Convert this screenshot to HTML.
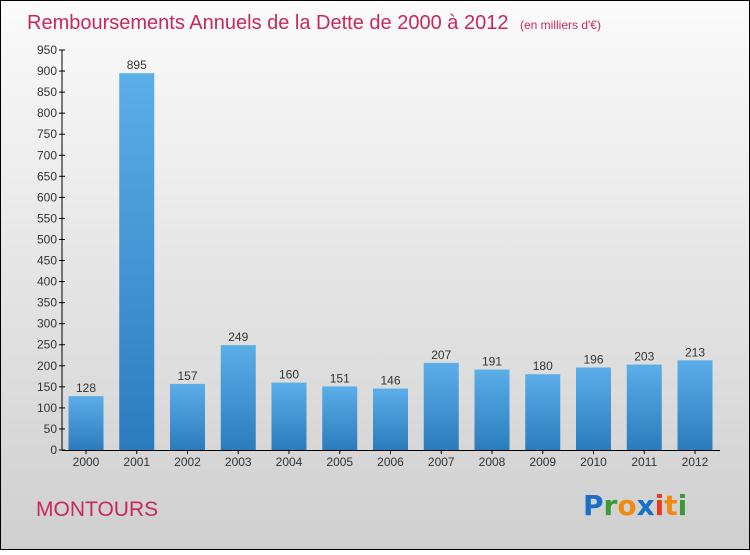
<!DOCTYPE html>
<html><head><meta charset="utf-8"><style>
body{margin:0;width:750px;height:550px;overflow:hidden;font-family:"Liberation Sans",sans-serif}
</style></head><body>
<svg id="c" width="750" height="550" xmlns="http://www.w3.org/2000/svg">
<defs>
<linearGradient id="bg" x1="0" y1="0" x2="0" y2="1"><stop offset="0" stop-color="#fbfbfb"/><stop offset="1" stop-color="#cfcfcf"/></linearGradient>
<linearGradient id="bar" x1="0" y1="0" x2="0" y2="1"><stop offset="0" stop-color="#5caee9"/><stop offset="1" stop-color="#2a7cbd"/></linearGradient>
</defs>
<rect x="0.5" y="0.5" width="749" height="549" fill="url(#bg)" stroke="#000"/>
<text x="27" y="29" font-size="20" fill="#c8285a">Remboursements Annuels de la Dette de 2000 à 2012 <tspan font-size="12" dx="6">(en milliers d'€)</tspan></text>
<text x="36" y="516" font-size="21" fill="#c8285a">MONTOURS</text>
<g font-size="28" font-weight="bold" font-family="'DejaVu Sans',sans-serif">
<text x="583" y="515"><tspan fill="#1a6fc8">P</tspan><tspan fill="#3a9a3a">r</tspan><tspan fill="#f08a10">o</tspan><tspan fill="#1a6fc8">x</tspan><tspan fill="#e83a1a">i</tspan><tspan fill="#f08a10">t</tspan><tspan fill="#3a9a3a">i</tspan></text>
</g>
<g id="axes"></g>
<g id="bars"></g>
</svg>
<script>
const years=["2000","2001","2002","2003","2004","2005","2006","2007","2008","2009","2010","2011","2012"];
const values=[128,895,157,249,160,151,146,207,191,180,196,203,213];
const yTicks=[0,50,100,150,200,250,300,350,400,450,500,550,600,650,700,750,800,850,900,950];
const NS="http://www.w3.org/2000/svg";
const y0=450,yTop=50,vMax=950,xL=62,x0=86,step=50.75,bw=35;
const y=v=>y0-(v/vMax)*(y0-yTop);
const x=i=>x0+i*step;
function mk(t,a,p){const e=document.createElementNS(NS,t);for(const k in a)e.setAttribute(k,a[k]);p.appendChild(e);return e;}
const ax=document.getElementById('axes'),bg=document.getElementById('bars');
const yl=mk('line',{x1:xL,y1:yTop,x2:xL,y2:y0,stroke:'#000'},ax);


const xl=mk('line',{x1:xL,y1:y0+0.5,x2:720,y2:y0+0.5,stroke:'#000'},ax);


yTicks.forEach(v=>{
  mk('line',{x1:xL-3,y1:y(v),x2:xL+3,y2:y(v),stroke:'#000'},ax);
  const t=mk('text',{x:xL-5,y:y(v)+4,'font-size':12,'text-anchor':'end',fill:'#333'},ax);
  t.textContent=v;
  
  
});
values.forEach((v,i)=>{
  const cx=x(i);
  const r=mk('rect',{x:cx-bw/2,y:y(v),width:bw,height:y0-y(v),fill:'url(#bar)'},bg);
  
  
  const l=mk('text',{x:cx,y:y(v)-4,'font-size':12,'text-anchor':'middle',fill:'#333'},bg);
  l.textContent=v;
  
  
  mk('line',{x1:cx,y1:y0,x2:cx,y2:y0+4,stroke:'#000'},ax);
  const xt=mk('text',{x:cx,y:y0+16,'font-size':12,'text-anchor':'middle',fill:'#333'},ax);
  xt.textContent=years[i];
  
  
});
</script>
</body></html>
